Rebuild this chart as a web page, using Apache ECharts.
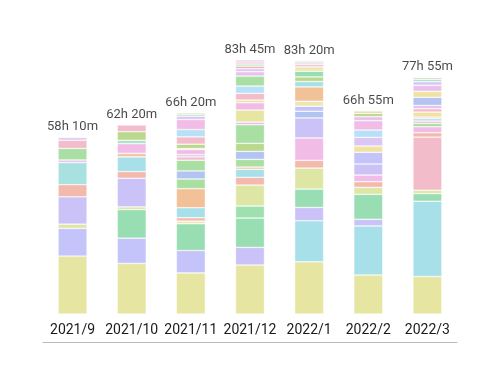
<!DOCTYPE html>
<html>
<head>
<meta charset="utf-8">
<script src="https://cdn.jsdelivr.net/npm/echarts@6/dist/echarts.min.js"></script>
<style>html,body{margin:0;padding:0;background:#fff}#c{width:500px;height:375px}</style>
</head>
<body>
<div id="c"></div>
<script>
// ---- data (minutes), segments listed bottom -> top ----
var categories = ['2021/9','2021/10','2021/11','2021/12','2022/1','2022/2','2022/3'];
var totalMinutes = [3490, 3740, 3980, 5025, 5000, 4015, 4675];
var totalLabels = ['58h 10m','62h 20m','66h 20m','83h 45m','83h 20m','66h 55m','77h 55m'];

var seg2021_9  = [1146, 547, 85, 540, 241, 436, 52, 228, 163, 52];
var seg2021_10 = [1000, 500, 566, 53, 566, 132, 290, 72, 191, 66, 171, 132];
var seg2021_11 = [813, 443, 529, 53, 66, 198, 377, 192, 159, 212, 66, 46, 99, 20, 86, 145, 145, 198, 66, 40, 26];
var seg2021_12 = [969, 349, 580, 238, 415, 152, 158, 46, 152, 158, 158, 369, 53, 237, 145, 53, 132, 145, 198, 86, 59, 53, 40, 40, 40];
var seg2022_1  = [1032, 812, 264, 363, 416, 152, 443, 396, 132, 99, 99, 284, 106, 92, 112, 86, 46, 33, 33];
var seg2022_2  = [772, 969, 132, 494, 138, 112, 132, 218, 231, 125, 171, 145, 185, 79, 66, 46];
var seg2022_3  = [742, 1488, 152, 66, 1051, 86, 119, 66, 46, 53, 26, 99, 66, 66, 159, 119, 119, 73, 46, 33];

// ---- styles ----
var C = {
  Y:'#e6e6a2', P:'#c4c4fa', LV:'#cbc3f7', YG:'#dee6a6', S:'#f2b9ac', T:'#a9e0e0',
  LB:'#a8e0ea', PL:'#e8c2ec', GR:'#aadfa3', G:'#99deb3', G2:'#9fe0b0', K:'#f2bccb', M:'#f1bde6',
  O:'#f2c198', OL:'#bad98f', B:'#b3c3f2', SB:'#b8e0f7', L:'#dcc6f5', YL:'#f0e2a2',
  LY:'#ede8b3', PE:'#f2c6a6', TN:'#e8d2a6', TL:'#ace3cc', GY:'#c9d2b9'
};
var col2021_9  = ['Y','P','YG','LV','S','T','PL','GR','K','L'];
var col2021_10 = ['Y','P','G','YG','LV','S','LB','PE','M','TL','OL','K'];
var col2021_11 = ['Y','P','G','LY','S','LB','O','GR','B','GR','K','L','M','LY','OL','K','SB','M','L','TL','TN'];
var col2021_12 = ['Y','LV','G','G2','YG','S','LB','PE','GR','B','OL','GR','PL','Y','M','YL','K','SB','GR','PL','L','S','TL','K','L'];
var col2022_1  = ['Y','LB','LV','G','YG','S','M','LV','B','P','LY','O','LB','OL','G','LY','K','PL','GY'];
var col2022_2  = ['Y','LB','LV','G','YG','S','M','LV','P','YL','L','SB','M','PL','OL','TN'];
var col2022_3  = ['Y','LB','G','YG','K','S','M','GR','K','SB','O','YL','K','PL','B','YL','PL','L','TL','GY'];

var segs = [seg2021_9, seg2021_10, seg2021_11, seg2021_12, seg2022_1, seg2022_2, seg2022_3];
var cols = [col2021_9, col2021_10, col2021_11, col2021_12, col2022_1, col2022_2, col2022_3];

var maxN = 0;
segs.forEach(function(s){ if (s.length > maxN) maxN = s.length; });

var series = [];
for (var k = 0; k < maxN; k++) {
  var data = [];
  for (var i = 0; i < segs.length; i++) {
    if (k < segs[i].length) {
      data.push({ value: segs[i][k], itemStyle: { color: C[cols[i][k]] } });
    } else {
      data.push('-');
    }
  }
  series.push({
    type: 'bar', stack: 'total', barWidth: '49%', data: data,
    itemStyle: { borderColor: '#ffffff', borderWidth: 0.5 },
    emphasis: { disabled: true },
    silent: true, animation: false
  });
}
series.push({
  type: 'scatter', data: totalMinutes, symbolSize: 0, silent: true, animation: false,
  label: {
    show: true, position: 'top', distance: 4,
    fontFamily: 'Roboto', fontSize: 13, color: '#1a1a1a',
    formatter: function(p){ return totalLabels[p.dataIndex]; }
  }
});

var chart = echarts.init(document.getElementById('c'), null, { renderer: 'canvas' });
chart.setOption({
  animation: false,
  grid: { left: 43, right: 43, top: 41, bottom: 61 },
  xAxis: [
    {
      type: 'category', data: categories,
      axisLine: { show: false }, axisTick: { show: false },
      axisLabel: { interval: 0, margin: 9, fontFamily: 'Roboto', fontSize: 14, color: '#1a1a1a' }
    },
    {
      type: 'category', data: categories, position: 'bottom', offset: 28,
      axisLine: { show: true, lineStyle: { color: '#bbbbbb', width: 1 } },
      axisTick: { show: false }, axisLabel: { show: false }
    }
  ],
  yAxis: { type: 'value', min: 0, max: 5400, show: false, splitLine: { show: false } },
  series: series
});
</script>
</body>
</html>
